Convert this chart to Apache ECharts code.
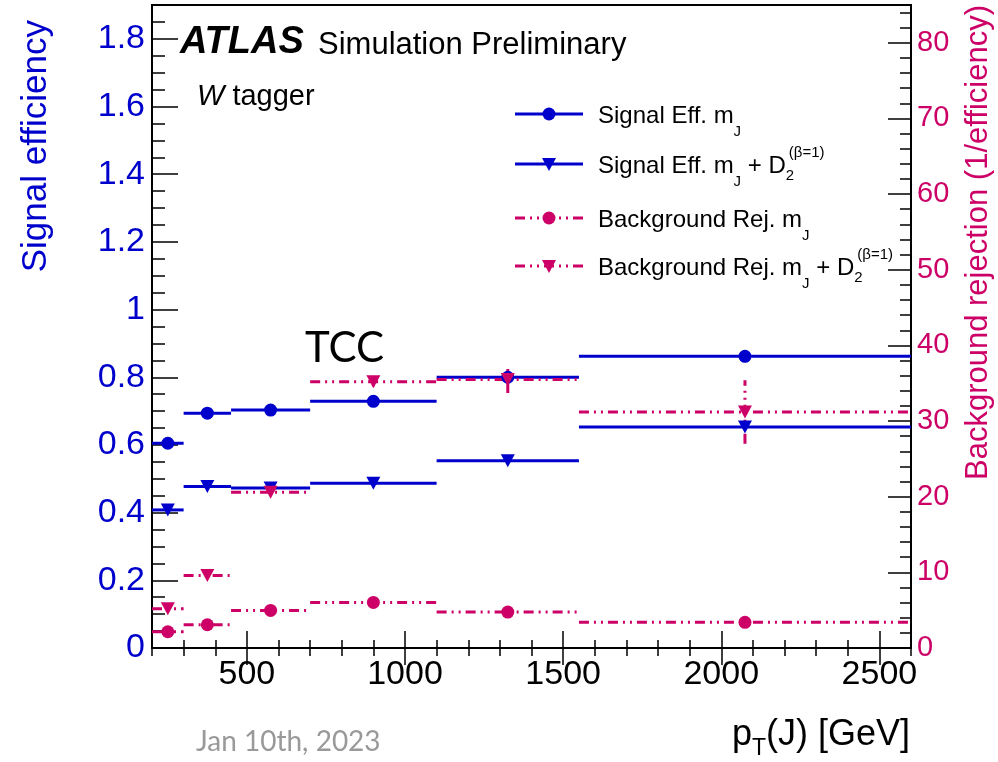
<!DOCTYPE html>
<html>
<head>
<meta charset="utf-8">
<script src="https://cdn.jsdelivr.net/npm/echarts@6/dist/echarts.min.js"></script>
<style>
  html, body { margin: 0; padding: 0; background: #fff; }
  #chart { width: 998px; height: 762px; }
</style>
</head>
<body>
<div id="chart"></div>
<script>
// Jet pT bins [GeV]
const binLow    = [200, 300, 450, 700, 1100, 1550];
const binHigh   = [300, 450, 700, 1100, 1550, 2600];
const binCenter = [250, 375, 575, 900, 1325, 2075];

// Signal efficiency (left axis)
const sigEffMass   = [0.605, 0.694, 0.703, 0.729, 0.800, 0.862];
const sigEffMassD2 = [0.408, 0.477, 0.473, 0.487, 0.553, 0.653];

// Background rejection = 1/efficiency (right axis)
const bkgRejMass      = [2.15, 3.07, 4.97, 6.03, 4.75, 3.39];
const bkgRejMassD2    = [5.19, 9.59, 20.6, 35.2, 35.5, 31.2];
const bkgRejMassD2Err = [0.1, 0.2, 0.4, 0.6, 1.8, 4.2];

// Tick labels
const xTickLabels      = [500, 1000, 1500, 2000, 2500];
const yLeftTickLabels  = [0, 0.2, 0.4, 0.6, 0.8, 1, 1.2, 1.4, 1.6, 1.8];
const yRightTickLabels = [0, 10, 20, 30, 40, 50, 60, 70, 80];

const FONT = 'Liberation Sans';
const BLUE = '#0000cc';
const MAGENTA = '#cc0066';
const DASH_DOT_DOT = [10, 5, 2, 5, 2, 5];

// minor tick positions
const xMinor = [];
for (let v = 200; v <= 2600; v += 100) xMinor.push(v);
const yLeftMinor = [];
for (let i = 0; i <= 38; i++) yLeftMinor.push(+(i * 0.05).toFixed(2));
const yRightMinor = [];
for (let v = 0; v <= 84; v += 2) yRightMinor.push(v);

function tickAxis(pos, min, max, values, len, label) {
  return {
    type: 'value', position: pos, min: min, max: max,
    axisLine: { show: false },
    splitLine: { show: false },
    axisTick: { show: true, inside: true, length: len, customValues: values,
                lineStyle: { color: '#000', width: 1.5 } },
    axisLabel: label
      ? Object.assign({ customValues: values, fontFamily: FONT, formatter: v => String(v) }, label)
      : { show: false }
  };
}

// horizontal bin-width segment at each value (plus optional vertical error bar)
function binSegments(color, dash, errors) {
  return function (params, api) {
    const v = api.value(2);
    const a = api.coord([api.value(0), v]);
    const b = api.coord([api.value(1), v]);
    const children = [{
      type: 'line',
      shape: { x1: a[0], y1: a[1], x2: b[0], y2: b[1] },
      style: { stroke: color, lineWidth: 3, lineDash: dash }
    }];
    if (errors) {
      const e = errors[params.dataIndex];
      const c = api.value(3);
      const lo = api.coord([c, v - e]);
      const hi = api.coord([c, v + e]);
      children.push({
        type: 'line',
        shape: { x1: lo[0], y1: lo[1], x2: hi[0], y2: hi[1] },
        style: { stroke: color, lineWidth: 3, lineDash: dash }
      });
    }
    return { type: 'group', children: children };
  };
}

function segData(vals) {
  return vals.map((v, i) => [binLow[i], binHigh[i], v, binCenter[i]]);
}
function pointData(vals) {
  return vals.map((v, i) => [binCenter[i], v]);
}

// text runs with sub/superscripts
const measureCtx = document.createElement('canvas').getContext('2d');
function textWidth(str, size, style) {
  measureCtx.font = (style || '') + ' ' + size + 'px "' + FONT + '"';
  return measureCtx.measureText(str).width;
}
function textRun(x0, baseline, parts, color) {
  let x = x0;
  const out = [];
  parts.forEach(p => {
    out.push({
      type: 'text', z: 100,
      style: {
        text: p.t, x: x + (p.dx || 0), y: baseline + (p.dy || 0) - 0.32 * p.s,
        fontSize: p.s, fontFamily: FONT, fontStyle: p.italic ? 'italic' : 'normal',
        fontWeight: p.bold ? 'bold' : 'normal',
        fill: color, align: 'left', verticalAlign: 'middle'
      }
    });
    if (!p.keep) x += textWidth(p.t, p.s, (p.italic ? 'italic ' : '') + (p.bold ? 'bold' : ''));
  });
  return out;
}
function runWidth(parts) {
  return parts.reduce((w, p) => w + (p.keep ? 0 :
    textWidth(p.t, p.s, (p.italic ? 'italic ' : '') + (p.bold ? 'bold' : ''))), 0);
}

// legend entries
const legendRows = [
  { y: 114, color: BLUE, dash: null, marker: 'circle',
    parts: [{ t: 'Signal Eff. m', s: 24 }, { t: 'J', s: 15, dy: 13 }] },
  { y: 164, color: BLUE, dash: null, marker: 'tri',
    parts: [{ t: 'Signal Eff. m', s: 24 }, { t: 'J', s: 15, dy: 13 }, { t: ' + D', s: 24 },
            { t: '2', s: 15, dy: 7, keep: true }, { t: '(β=1)', s: 15, dy: -16, dx: 3 }] },
  { y: 218, color: MAGENTA, dash: DASH_DOT_DOT, marker: 'circle',
    parts: [{ t: 'Background Rej. m', s: 24 }, { t: 'J', s: 15, dy: 13 }] },
  { y: 266, color: MAGENTA, dash: DASH_DOT_DOT, marker: 'tri',
    parts: [{ t: 'Background Rej. m', s: 24 }, { t: 'J', s: 15, dy: 13 }, { t: ' + D', s: 24 },
            { t: '2', s: 15, dy: 7, keep: true }, { t: '(β=1)', s: 15, dy: -16, dx: 3 }] }
];

const graphics = [];
legendRows.forEach(r => {
  graphics.push({ type: 'line', z: 100,
    shape: { x1: 515, y1: r.y, x2: 583, y2: r.y },
    style: { stroke: r.color, lineWidth: 3, lineDash: r.dash } });
  if (r.marker === 'circle') {
    graphics.push({ type: 'circle', z: 101, shape: { cx: 549, cy: r.y, r: 6.5 }, style: { fill: r.color } });
  } else {
    graphics.push({ type: 'polygon', z: 101,
      shape: { points: [[542, r.y - 6], [556, r.y - 6], [549, r.y + 7]] }, style: { fill: r.color } });
  }
  textRun(598, r.y + 10, r.parts, '#000').forEach(g => graphics.push(g));
});

// experiment label and tagger
textRun(180, 55, [{ t: 'ATLAS', s: 38, bold: true, italic: true }], '#000').forEach(g => graphics.push(g));
textRun(318, 55, [{ t: 'Simulation Preliminary', s: 31 }], '#000').forEach(g => graphics.push(g));
textRun(197, 106, [{ t: 'W', s: 29, italic: true }, { t: ' tagger', s: 29 }], '#000').forEach(g => graphics.push(g));

// x-axis title, right-aligned to the frame
const xTitleParts = [{ t: 'p', s: 36 }, { t: 'T', s: 23, dy: 9 }, { t: '(J) [GeV]', s: 36 }];
textRun(910 - runWidth(xTitleParts), 747, xTitleParts, '#000').forEach(g => graphics.push(g));

graphics.push({
  type: 'text', z: 100,
  style: { text: 'TCC', x: 305, y: 348, fontSize: 42, fontFamily: 'Lato', fill: '#000',
           align: 'left', verticalAlign: 'middle' }
});
graphics.push({
  type: 'text', z: 100,
  style: { text: 'Jan 10th, 2023', x: 196, y: 742, fontSize: 28, fontFamily: 'Lato', fill: '#999999',
           align: 'left', verticalAlign: 'middle' }
});
graphics.push({
  type: 'text', z: 100, x: 36, y: 20, rotation: Math.PI / 2,
  style: { text: 'Signal efficiency', x: 0, y: 0, fontSize: 35, fontFamily: FONT, fill: BLUE,
           align: 'right', verticalAlign: 'middle' }
});
graphics.push({
  type: 'text', z: 100, x: 978, y: 5, rotation: Math.PI / 2,
  style: { text: 'Background rejection (1/efficiency)', x: 0, y: 0, fontSize: 31, fontFamily: FONT,
           fill: MAGENTA, align: 'right', verticalAlign: 'middle' }
});

const chart = echarts.init(document.getElementById('chart'), null, { renderer: 'canvas' });
chart.setOption({
  animation: false,
  backgroundColor: '#fff',
  grid: { left: 152, right: 87, top: 5, bottom: 114, show: true,
          borderColor: '#000', borderWidth: 2, backgroundColor: 'transparent' },
  xAxis: [
    tickAxis('bottom', 200, 2600, xTickLabels, 17,
             { fontSize: 34, color: '#000', margin: 10 }),
    tickAxis('bottom', 200, 2600, xMinor, 8, null),
    tickAxis('top', 200, 2600, xTickLabels, 17, null),
    tickAxis('top', 200, 2600, xMinor, 8, null)
  ],
  yAxis: [
    tickAxis('left', 0, 1.9, yLeftTickLabels, 26,
             { fontSize: 34, color: BLUE, margin: 7 }),
    tickAxis('left', 0, 1.9, yLeftMinor, 13, null),
    tickAxis('right', 0, 85, yRightTickLabels, 23,
             { fontSize: 29, color: MAGENTA, margin: 6 }),
    tickAxis('right', 0, 85, yRightMinor, 11, null)
  ],
  series: [
    { type: 'custom', name: 'Signal Eff. mJ', xAxisIndex: 0, yAxisIndex: 0,
      renderItem: binSegments(BLUE, null), data: segData(sigEffMass), encode: { x: [0, 1], y: 2 } },
    { type: 'scatter', xAxisIndex: 0, yAxisIndex: 0, symbol: 'circle', symbolSize: 13,
      itemStyle: { color: BLUE, opacity: 1 }, data: pointData(sigEffMass) },
    { type: 'custom', name: 'Signal Eff. mJ + D2', xAxisIndex: 0, yAxisIndex: 0,
      renderItem: binSegments(BLUE, null), data: segData(sigEffMassD2), encode: { x: [0, 1], y: 2 } },
    { type: 'scatter', xAxisIndex: 0, yAxisIndex: 0, symbol: 'triangle', symbolRotate: 180,
      symbolSize: [14, 13], itemStyle: { color: BLUE, opacity: 1 }, data: pointData(sigEffMassD2) },
    { type: 'custom', name: 'Background Rej. mJ', xAxisIndex: 0, yAxisIndex: 2,
      renderItem: binSegments(MAGENTA, DASH_DOT_DOT), data: segData(bkgRejMass), encode: { x: [0, 1], y: 2 } },
    { type: 'scatter', xAxisIndex: 0, yAxisIndex: 2, symbol: 'circle', symbolSize: 13,
      itemStyle: { color: MAGENTA, opacity: 1 }, data: pointData(bkgRejMass) },
    { type: 'custom', name: 'Background Rej. mJ + D2', xAxisIndex: 0, yAxisIndex: 2,
      renderItem: binSegments(MAGENTA, DASH_DOT_DOT, bkgRejMassD2Err), data: segData(bkgRejMassD2),
      encode: { x: [0, 1], y: 2 } },
    { type: 'scatter', xAxisIndex: 0, yAxisIndex: 2, symbol: 'triangle', symbolRotate: 180,
      symbolSize: [14, 13], itemStyle: { color: MAGENTA, opacity: 1 }, data: pointData(bkgRejMassD2) }
  ],
  graphic: graphics
});
</script>
</body>
</html>
